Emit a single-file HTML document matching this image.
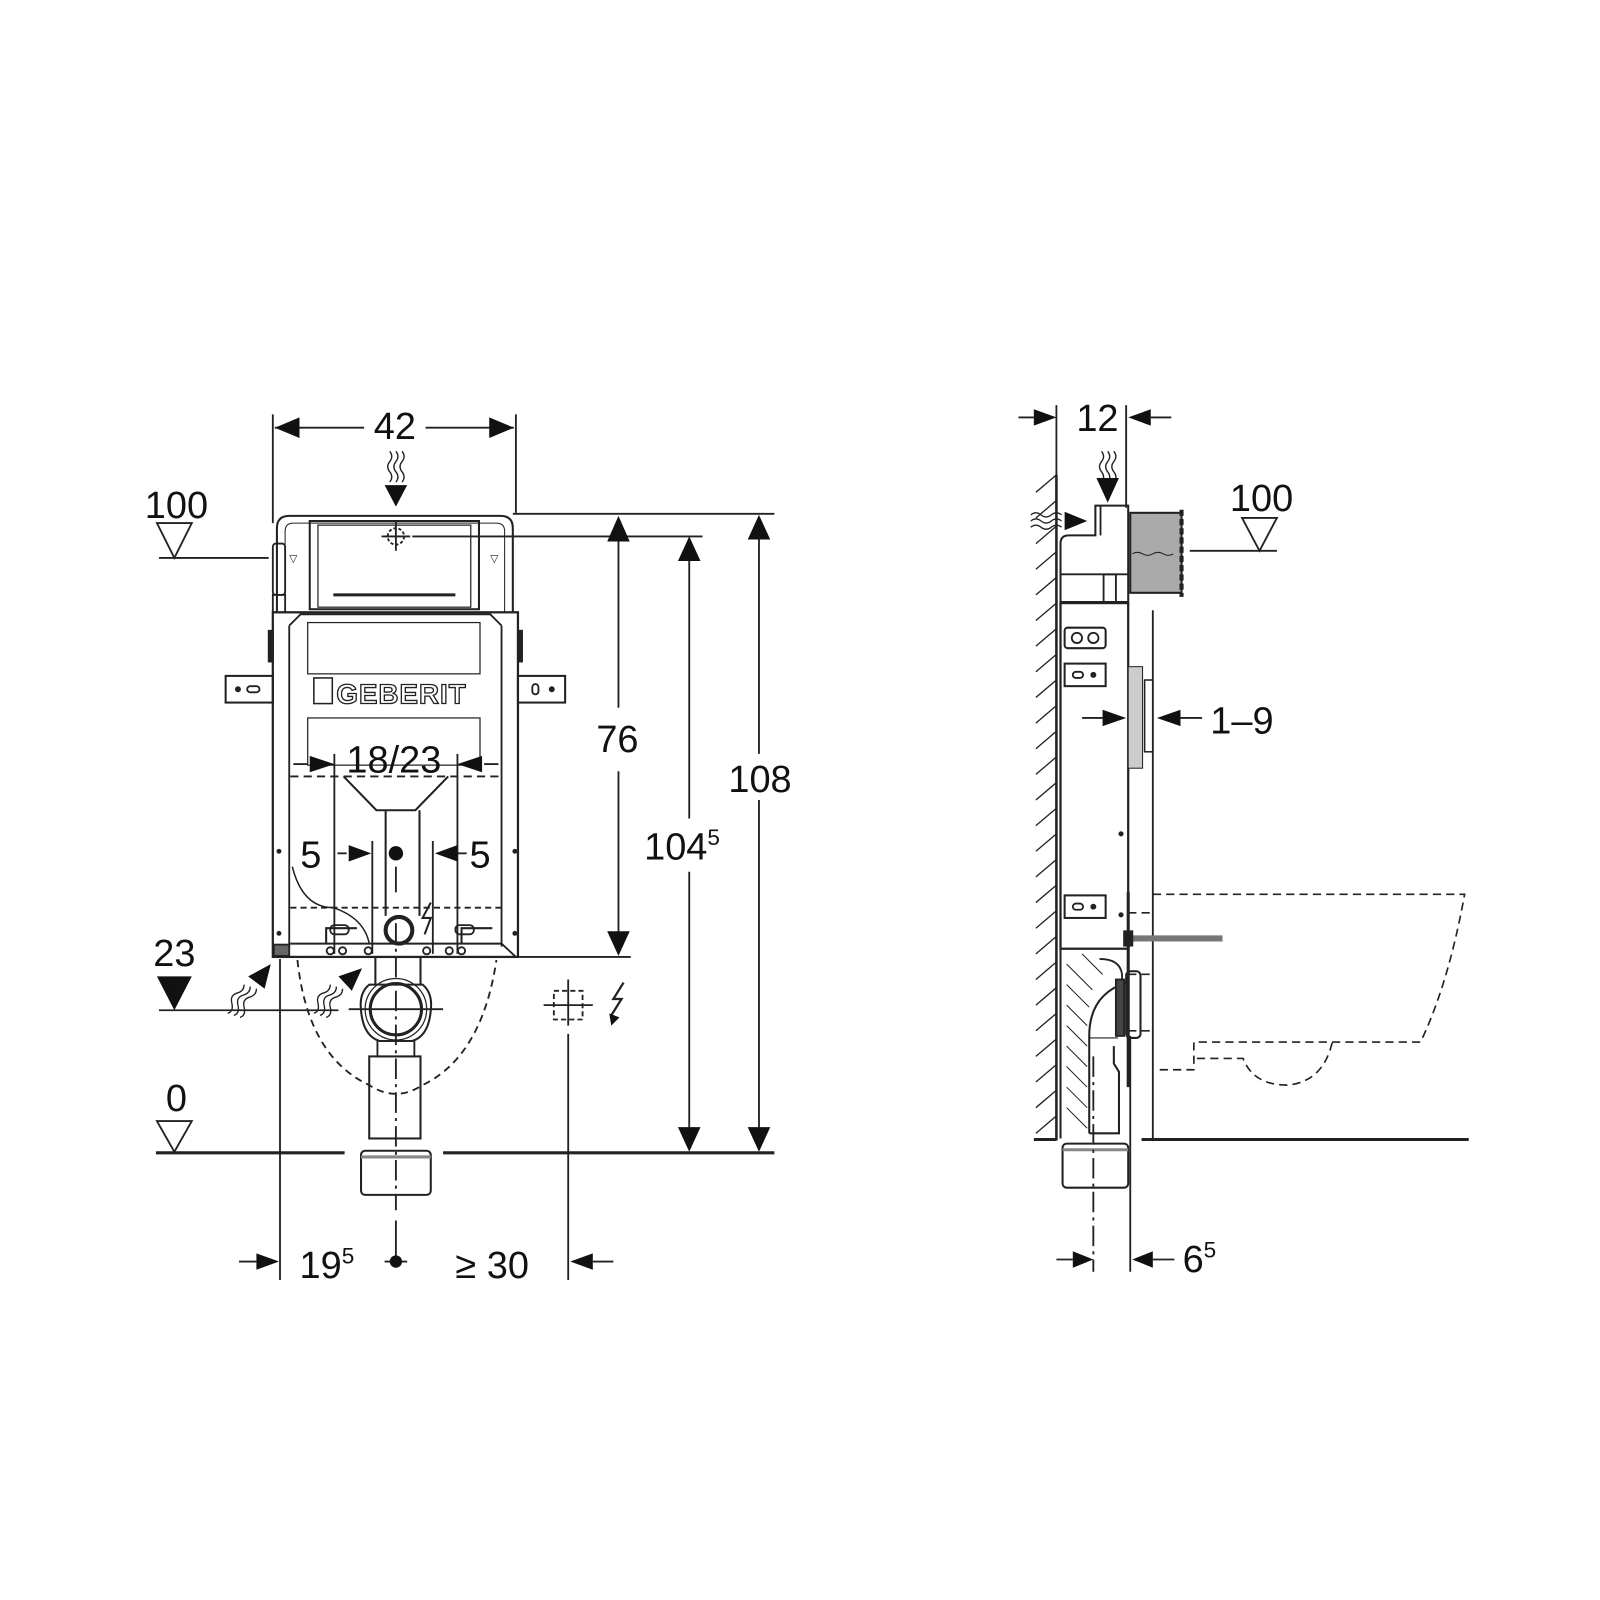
<!DOCTYPE html>
<html><head><meta charset="utf-8"><style>
html,body{margin:0;padding:0;background:#fff;}
svg{display:block;}
text{font-family:"Liberation Sans",Arial,sans-serif;fill:#111;}
</style></head><body>
<svg width="1600" height="1600" viewBox="0 0 1560 1560" xmlns="http://www.w3.org/2000/svg">
<g stroke="#222" fill="none" stroke-width="1.8">

<!-- ===== LEFT DRAWING ===== -->
<line x1="266" y1="404" x2="266" y2="510"/>
<line x1="503" y1="404" x2="503" y2="500"/>
<line x1="268" y1="417" x2="355" y2="417"/>
<line x1="415" y1="417" x2="501" y2="417"/>
<polygon points="268,417 292,407 292,427" fill="#111" stroke="none"/>
<polygon points="501,417 477,407 477,427" fill="#111" stroke="none"/>
<path d="M380,440 q4,5 0,10 q-4,5 0,10 q4,5 0,10" stroke-width="1.3"/>
<path d="M386,440 q4,5 0,10 q-4,5 0,10 q4,5 0,10" stroke-width="1.3"/>
<path d="M392,440 q4,5 0,10 q-4,5 0,10 q4,5 0,10" stroke-width="1.3"/>
<polygon points="375,473 397,473 386,494" fill="#111" stroke="none"/>

<path d="M270,597 V515 q0,-12 12,-12 H488 q12,0 12,12 V597" stroke-width="2"/>
<path d="M278,597 V518 q0,-8 8,-8 H484 q8,0 8,8 V597" stroke-width="1"/>
<rect x="302" y="508" width="165" height="86" stroke-width="2"/>
<rect x="310" y="512" width="149" height="80" stroke-width="1.2"/>
<line x1="325" y1="580" x2="444" y2="580" stroke-width="3"/>
<circle cx="386" cy="523" r="8" stroke-dasharray="3 2"/>
<line x1="372" y1="523" x2="400" y2="523"/><line x1="386" y1="509" x2="386" y2="537"/>
<line x1="402" y1="523" x2="685" y2="523"/>
<line x1="500" y1="501" x2="755" y2="501"/>
<rect x="266" y="530" width="12" height="50" rx="3"/>
<rect x="266" y="580" width="12" height="17"/>
<text x="282" y="548" font-size="10" stroke="none">▽</text>
<text x="478" y="548" font-size="10" stroke="none">▽</text>

<rect x="266" y="597" width="239" height="336" stroke-width="2.2"/>
<line x1="282" y1="610" x2="282" y2="923"/>
<line x1="489" y1="610" x2="489" y2="923"/>
<path d="M282,610 L293,599 H478 L489,610"/>
<rect x="300" y="607" width="168" height="50" stroke-width="1.2"/>
<rect x="300" y="700" width="168" height="46" stroke-width="1.2"/>
<rect x="220" y="659" width="46" height="26" stroke-width="2"/>
<circle cx="232" cy="672" r="2" fill="#222"/><rect x="241" y="669" width="12" height="6" rx="3"/>
<rect x="505" y="659" width="46" height="26" stroke-width="2"/>
<rect x="519" y="667" width="6" height="10" rx="3"/><circle cx="538" cy="672" r="2" fill="#222"/>
<rect x="262" y="615" width="4" height="30" fill="#222"/>
<rect x="505" y="615" width="4" height="30" fill="#222"/>
<rect x="306" y="661" width="18" height="25" stroke-width="1.5"/>
<line x1="283" y1="757" x2="489" y2="757" stroke-dasharray="8 5"/>
<line x1="286" y1="745" x2="300" y2="745"/>
<polygon points="326,745 302,737 302,753" fill="#111" stroke="none"/>
<polygon points="446,745 470,737 470,753" fill="#111" stroke="none"/>
<line x1="472" y1="745" x2="486" y2="745"/>
<line x1="326" y1="735" x2="326" y2="930"/>
<line x1="446" y1="735" x2="446" y2="930"/>
<path d="M335,757 L367,790 H405 L437,757" stroke-width="2"/>
<path d="M376,790 V893 M409,790 V893" stroke-width="2"/>
<line x1="329" y1="832" x2="338" y2="832"/>
<polygon points="362,832 340,824 340,840" fill="#111" stroke="none"/>
<polygon points="424,832 446,824 446,840" fill="#111" stroke="none"/>
<line x1="446" y1="832" x2="455" y2="832"/>
<line x1="363" y1="820" x2="363" y2="930"/>
<line x1="422" y1="820" x2="422" y2="930"/>
<circle cx="386" cy="832" r="7" fill="#111" stroke="none"/>
<line x1="386" y1="845" x2="386" y2="870"/>
<circle cx="272" cy="830" r="1.5" fill="#222"/><circle cx="502" cy="830" r="1.5" fill="#222"/>
<circle cx="272" cy="910" r="1.5" fill="#222"/><circle cx="502" cy="910" r="1.5" fill="#222"/>
<line x1="283" y1="885" x2="489" y2="885" stroke-dasharray="6 4"/>
<circle cx="389" cy="907" r="13" stroke-width="4"/>
<path d="M318,920 v-15 h30 M450,920 v-15 h30" stroke-width="2"/>
<rect x="322" y="902" width="18" height="9" rx="4"/>
<rect x="444" y="902" width="18" height="9" rx="4"/>
<path d="M285,845 q10,40 40,40 q30,10 35,35" stroke-width="1.5"/>
<path d="M420,880 l-8,15 h8 l-6,16" stroke-width="2"/>
<line x1="283" y1="920" x2="489" y2="920" stroke-width="2"/>
<path d="M489,920 L503,933" />
<circle cx="322" cy="927" r="3.5"/><circle cx="334" cy="927" r="3.5"/>
<circle cx="359" cy="927" r="3.5"/><circle cx="416" cy="927" r="3.5"/>
<circle cx="438" cy="927" r="3.5"/><circle cx="450" cy="927" r="3.5"/>
<rect x="267" y="921" width="15" height="11" fill="#666"/>

<path d="M290,936 Q300,1030 360,1058 Q386,1075 412,1058 Q470,1030 484,936" stroke-dasharray="7 5"/>
<path d="M366,933 V960 M410,933 V960" stroke-width="2"/>
<path d="M360,960 Q350,968 352,985 Q354,1010 370,1015 H402 Q418,1010 420,985 Q422,968 412,960 Z" stroke-width="2"/>
<circle cx="386" cy="984" r="30" stroke-width="1.2"/>
<circle cx="386" cy="984" r="25" stroke-width="3"/>
<path d="M368,1015 V1030 H404 V1015"/>
<rect x="360" y="1030" width="50" height="80" stroke-width="2"/>
<rect x="352" y="1122" width="68" height="43" rx="4" stroke-width="2"/>
<line x1="352" y1="1128" x2="420" y2="1128" stroke="#888" stroke-width="3"/>
<line x1="386" y1="900" x2="386" y2="1180" stroke-dasharray="20 5 3 5"/>
<line x1="386" y1="1190" x2="386" y2="1230"/>
<line x1="340" y1="984" x2="432" y2="984"/>

<line x1="155" y1="544" x2="262" y2="544"/>
<polygon points="153,510 187,510 170,544"/>
<line x1="155" y1="985" x2="330" y2="985"/>
<polygon points="153,952 187,952 170,985" fill="#111" stroke="none"/>
<line x1="152" y1="1124" x2="336" y2="1124" stroke-width="3"/>
<line x1="432" y1="1124" x2="755" y2="1124" stroke-width="3"/>
<polygon points="153,1093 187,1093 170,1123"/>
<line x1="502" y1="933" x2="615" y2="933"/>

<g stroke-width="1.3">
<path d="M222,988 q6,-2 4,-10 q-2,-8 6,-10 q6,-2 6,-8"/>
<path d="M228,990 q6,-2 4,-10 q-2,-8 6,-10 q6,-2 6,-8"/>
<path d="M234,992 q6,-2 4,-10 q-2,-8 6,-10 q6,-2 6,-8"/>
<path d="M306,988 q6,-2 4,-10 q-2,-8 6,-10 q6,-2 6,-8"/>
<path d="M312,990 q6,-2 4,-10 q-2,-8 6,-10 q6,-2 6,-8"/>
<path d="M318,992 q6,-2 4,-10 q-2,-8 6,-10 q6,-2 6,-8"/>
</g>
<polygon points="264,940 258,964 242,952" fill="#111" stroke="none"/>
<polygon points="353,944 343,966 330,952" fill="#111" stroke="none"/>

<rect x="540" y="966" width="28" height="28" stroke-dasharray="5 3"/>
<line x1="530" y1="980" x2="578" y2="980"/><line x1="554" y1="955" x2="554" y2="1000"/>
<path d="M608,958 l-10,16 h8 l-10,16" stroke-width="2.2"/>
<polygon points="596,1000 594,988 604,992" fill="#111" stroke="none"/>

<line x1="273" y1="935" x2="273" y2="1248"/>
<line x1="554" y1="1008" x2="554" y2="1248"/>
<line x1="233" y1="1230" x2="250" y2="1230"/>
<polygon points="272,1230 250,1222 250,1238" fill="#111" stroke="none"/>
<polygon points="556,1230 578,1222 578,1238" fill="#111" stroke="none"/>
<line x1="578" y1="1230" x2="598" y2="1230"/>
<line x1="375" y1="1230" x2="397" y2="1230"/>
<circle cx="386" cy="1230" r="6" fill="#111" stroke="none"/>

<line x1="603" y1="510" x2="603" y2="690"/>
<line x1="603" y1="752" x2="603" y2="928"/>
<polygon points="603,503 592,528 614,528" fill="#111" stroke="none"/>
<polygon points="603,932 592,908 614,908" fill="#111" stroke="none"/>
<line x1="672" y1="530" x2="672" y2="798"/>
<line x1="672" y1="850" x2="672" y2="1120"/>
<polygon points="672,523 661,547 683,547" fill="#111" stroke="none"/>
<polygon points="672,1123 661,1099 683,1099" fill="#111" stroke="none"/>
<line x1="740" y1="510" x2="740" y2="735"/>
<line x1="740" y1="780" x2="740" y2="1120"/>
<polygon points="740,502 729,526 751,526" fill="#111" stroke="none"/>
<polygon points="740,1123 729,1099 751,1099" fill="#111" stroke="none"/>

<!-- ===== RIGHT DRAWING ===== -->
<line x1="1030" y1="395" x2="1030" y2="500"/>
<line x1="1098" y1="395" x2="1098" y2="495"/>
<line x1="993" y1="407" x2="1008" y2="407"/>
<polygon points="1030,407 1008,399 1008,415" fill="#111" stroke="none"/>
<polygon points="1100,407 1122,399 1122,415" fill="#111" stroke="none"/>
<line x1="1122" y1="407" x2="1142" y2="407"/>
<path d="M1074,440 q4,5 0,10 q-4,5 0,10 q4,5 0,10" stroke-width="1.3"/>
<path d="M1080,440 q4,5 0,10 q-4,5 0,10 q4,5 0,10" stroke-width="1.3"/>
<path d="M1086,440 q4,5 0,10 q-4,5 0,10 q4,5 0,10" stroke-width="1.3"/>
<polygon points="1069,466 1091,466 1080,490" fill="#111" stroke="none"/>
<path d="M1005,502 q5,-4 10,0 q5,4 10,0 q5,-4 10,0" stroke-width="1.3"/>
<path d="M1005,508 q5,-4 10,0 q5,4 10,0 q5,-4 10,0" stroke-width="1.3"/>
<path d="M1005,514 q5,-4 10,0 q5,4 10,0 q5,-4 10,0" stroke-width="1.3"/>
<polygon points="1060,508 1038,499 1038,517" fill="#111" stroke="none"/>

<line x1="1030" y1="463" x2="1030" y2="1112" stroke-width="2.5"/>
<g stroke-width="1.3">
<path d="M1010,480 l20,-17 M1010,505 l20,-17 M1010,530 l20,-17 M1010,555 l20,-17 M1010,580 l20,-17 M1010,605 l20,-17 M1010,630 l20,-17 M1010,655 l20,-17 M1010,680 l20,-17 M1010,705 l20,-17 M1010,730 l20,-17 M1010,755 l20,-17 M1010,780 l20,-17 M1010,805 l20,-17 M1010,830 l20,-17 M1010,855 l20,-17 M1010,880 l20,-17 M1010,905 l20,-17 M1010,930 l20,-17 M1010,955 l20,-17 M1010,980 l20,-17 M1010,1005 l20,-17 M1010,1030 l20,-17 M1010,1055 l20,-17 M1010,1080 l20,-17 M1010,1105 l20,-17"/>
</g>
<line x1="1008" y1="1111" x2="1030" y2="1111" stroke-width="3"/>

<path d="M1068,493 H1100 V587 H1034 V530 q0,-8 8,-8 H1068 Z" stroke-width="2"/>
<line x1="1073" y1="493" x2="1073" y2="522"/>
<line x1="1034" y1="560" x2="1100" y2="560"/>
<rect x="1076" y="560" width="12" height="27"/>
<rect x="1102" y="500" width="50" height="78" fill="#aaa" stroke-width="2"/>
<line x1="1152" y1="497" x2="1152" y2="582" stroke-width="4" stroke-dasharray="6 3"/>
<path d="M1104,540 q5,-3 10,0 q5,3 10,0 q5,-3 10,0 q5,3 10,0" stroke-width="1"/>

<rect x="1034" y="588" width="66" height="337" stroke-width="2.2"/>
<rect x="1038" y="612" width="40" height="20" rx="3" stroke-width="2"/>
<circle cx="1050" cy="622" r="5"/><circle cx="1066" cy="622" r="5"/>
<rect x="1038" y="647" width="40" height="22" stroke-width="2"/>
<rect x="1046" y="655" width="10" height="6" rx="3"/><circle cx="1066" cy="658" r="2" fill="#222"/>
<rect x="1038" y="873" width="40" height="22" stroke-width="2"/>
<rect x="1046" y="881" width="10" height="6" rx="3"/><circle cx="1066" cy="884" r="2" fill="#222"/>
<circle cx="1093" cy="813" r="1.6" fill="#222"/><circle cx="1093" cy="892" r="1.6" fill="#222"/>
<rect x="1100" y="650" width="14" height="99" fill="#ccc" stroke-width="1"/>
<rect x="1116" y="663" width="8" height="70" stroke-width="1.5"/>
<line x1="1124" y1="595" x2="1124" y2="1112"/>
<line x1="1055" y1="700" x2="1075" y2="700"/>
<polygon points="1098,700 1075,692 1075,708" fill="#111" stroke="none"/>
<polygon points="1128,700 1151,692 1151,708" fill="#111" stroke="none"/>
<line x1="1151" y1="700" x2="1172" y2="700"/>
<line x1="1160" y1="537" x2="1245" y2="537"/>
<polygon points="1211,505 1245,505 1228,537"/>

<line x1="1100" y1="915" x2="1192" y2="915" stroke="#777" stroke-width="6"/>
<rect x="1096" y="908" width="8" height="14" fill="#222"/>
<line x1="1100" y1="870" x2="1100" y2="1060" stroke-width="3"/>
<path d="M1034,925 V1110" stroke-width="2"/>
<path d="M1062,1105 V1010 Q1062,970 1098,958" stroke-width="2"/>
<path d="M1062,1105 H1091 V1045 l-5,-8 V1020" stroke-width="2"/>
<path d="M1072,935 q20,0 22,15 V958"/>
<rect x="1088" y="955" width="8" height="55" fill="#444"/>
<rect x="1098" y="947" width="14" height="65" rx="4" stroke-width="2"/>
<g stroke-width="1"><path d="M1040,940 l25,25 M1040,960 l22,22 M1040,980 l20,20 M1040,1000 l20,20 M1040,1020 l20,20 M1040,1040 l20,20 M1040,1060 l20,20 M1040,1080 l20,20 M1055,930 l20,20"/></g>
<line x1="1062" y1="1012" x2="1090" y2="1012" stroke-width="1"/>
<rect x="1036" y="1115" width="64" height="43" rx="4" stroke-width="2"/>
<line x1="1036" y1="1121" x2="1100" y2="1121" stroke="#888" stroke-width="3"/>
<line x1="1066" y1="1030" x2="1066" y2="1240" stroke-dasharray="20 5 3 5"/>
<line x1="1102" y1="1010" x2="1102" y2="1240"/>
<line x1="1030" y1="1228" x2="1046" y2="1228"/>
<polygon points="1066,1228 1046,1220 1046,1236" fill="#111" stroke="none"/>
<polygon points="1104,1228 1124,1220 1124,1236" fill="#111" stroke="none"/>
<line x1="1124" y1="1228" x2="1145" y2="1228"/>

<g stroke-dasharray="8 5" stroke-width="1.6">
<path d="M1124,872 H1428 Q1412,960 1385,1016 H1164 V1032 V1043 H1126"/>
<path d="M1167,1032 H1212 Q1222,1058 1255,1058 Q1290,1055 1299,1016"/>
<path d="M1100,890 H1124 M1100,950 H1124 M1100,1005 H1124"/>
</g>
<line x1="1113" y1="1111" x2="1432" y2="1111" stroke-width="3"/>
</g>

<g stroke="none">
<text x="385" y="428" font-size="37" text-anchor="middle">42</text>
<text x="172" y="505" font-size="37" text-anchor="middle">100</text>
<text x="170" y="942" font-size="37" text-anchor="middle">23</text>
<text x="172" y="1083" font-size="37" text-anchor="middle">0</text>
<text x="384" y="753" font-size="37" text-anchor="middle">18/23</text>
<text x="303" y="846" font-size="37" text-anchor="middle">5</text>
<text x="468" y="846" font-size="37" text-anchor="middle">5</text>
<text x="602" y="733" font-size="37" text-anchor="middle">76</text>
<text x="628" y="838" font-size="37">104<tspan font-size="22" dy="-14">5</tspan></text>
<text x="741" y="772" font-size="37" text-anchor="middle">108</text>
<text x="292" y="1246" font-size="37">19<tspan font-size="22" dy="-14">5</tspan></text>
<text x="444" y="1246" font-size="37">≥ 30</text>
<text x="1070" y="420" font-size="37" text-anchor="middle">12</text>
<text x="1230" y="498" font-size="37" text-anchor="middle">100</text>
<text x="1180" y="715" font-size="37">1–9</text>
<text x="1153" y="1240" font-size="37">6<tspan font-size="22" dy="-14">5</tspan></text>
<text x="328" y="686" font-size="27" font-weight="bold" style="fill:#fff;stroke:#222;stroke-width:1.3" letter-spacing="1">GEBERIT</text>
</g>
</svg>
</body></html>
